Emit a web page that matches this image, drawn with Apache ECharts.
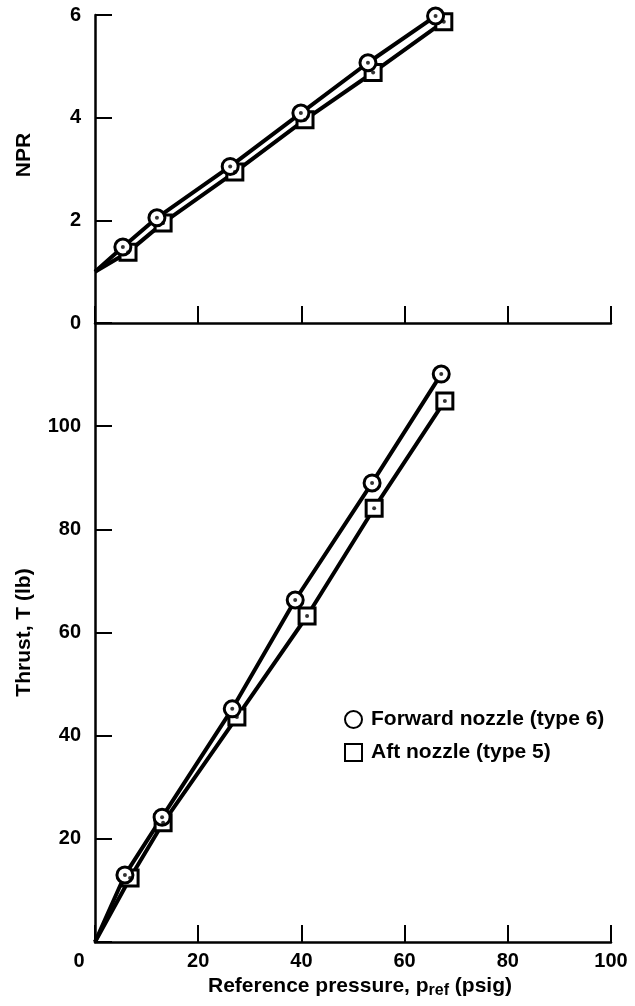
<!DOCTYPE html>
<html>
<head>
<meta charset="utf-8">
<script src="https://cdn.jsdelivr.net/npm/echarts@6/dist/echarts.min.js"></script>
<style>
  html, body { margin: 0; padding: 0; background: #fff; }
  #chart { width: 635px; height: 1006px; }
</style>
</head>
<body>
<div id="chart"></div>
<script>
// values
var fwdName = 'Forward nozzle (type 6)';
var aftName = 'Aft nozzle (type 5)';

// top panel: NPR vs reference pressure
var nprFwdP = [5.4, 12.0, 26.2, 39.9, 52.9, 66.0];
var nprFwd  = [1.48, 2.05, 3.05, 4.09, 5.07, 5.98];
var nprAftP = [6.4, 13.2, 27.1, 40.7, 53.9, 67.6];
var nprAft  = [1.38, 1.95, 2.94, 3.96, 4.88, 5.87];
var nprAtZero = 1.0;

// bottom panel: thrust vs reference pressure
var thrFwdP = [5.8, 13.0, 26.6, 38.8, 53.7, 67.1];
var thrFwd  = [13.0, 24.2, 45.2, 66.3, 89.0, 110.1];
var thrAftP = [6.8, 13.2, 27.5, 41.1, 54.1, 67.8];
var thrAft  = [12.4, 23.1, 43.6, 63.2, 84.1, 104.9];
var thrAtZero = 0;

var font = "'Liberation Sans', Arial, Helvetica, sans-serif";

function pairs(xs, ys) {
    var out = [];
    for (var i = 0; i < xs.length; i++) out.push([xs[i], ys[i]]);
    return out;
}

var chart = echarts.init(document.getElementById('chart'));

var axisLine = { show: true, onZero: false, lineStyle: { color: '#000', width: 2.5 } };
var axisTick = { show: true, inside: true, length: 17, lineStyle: { color: '#000', width: 2 } };
var labelStyle = { color: '#000', fontSize: 20, fontWeight: 'bold', fontFamily: font };
var bigStyle = { color: '#000', fontSize: 21, fontWeight: 'bold', fontFamily: font };

function lineSeries(x, y, xs, ys, start) {
    return {
        type: 'line', xAxisIndex: x, yAxisIndex: y, z: 2, silent: true,
        showSymbol: false, symbol: 'none',
        lineStyle: { color: '#000', width: 4 },
        data: [[0, start]].concat(pairs(xs, ys))
    };
}
function markSeries(name, sym, x, y, xs, ys, z) {
    return {
        name: name, type: 'scatter', xAxisIndex: x, yAxisIndex: y, z: z, silent: true,
        symbol: sym, symbolSize: 16,
        itemStyle: { color: '#fff', borderColor: '#000', borderWidth: 3, opacity: 1 },
        data: pairs(xs, ys)
    };
}
function dotSeries(x, y, xs, ys) {
    return {
        type: 'scatter', xAxisIndex: x, yAxisIndex: y, z: 6, silent: true,
        symbol: 'circle', symbolSize: 4,
        itemStyle: { color: '#000' },
        data: pairs(xs, ys)
    };
}

var option = {
    animation: false,
    backgroundColor: '#fff',
    grid: [
        { left: 95, right: 24, top: 15, height: 308 },
        { left: 95, right: 24, top: 323, height: 619 }
    ],
    xAxis: [
        {
            gridIndex: 0, type: 'value', min: 0, max: 100, interval: 20,
            axisLine: axisLine, axisTick: axisTick,
            axisLabel: { show: false }, splitLine: { show: false }
        },
        {
            gridIndex: 1, type: 'value', min: 0, max: 100, interval: 20,
            axisLine: axisLine, axisTick: axisTick, splitLine: { show: false },
            axisLabel: Object.assign({}, labelStyle, {
                margin: 9,
                formatter: function (v) { return v === 0 ? '{z|0}' : String(v); },
                rich: { z: Object.assign({}, labelStyle, { padding: [0, 32, 0, 0] }) }
            }),
            name: '{m|Reference pressure, p}{s|ref}{m| (psig)}',
            nameLocation: 'middle', nameGap: 26,
            nameTextStyle: {
                padding: [0, 0, 0, 14],
                rich: {
                    m: Object.assign({}, bigStyle, { lineHeight: 24 }),
                    s: Object.assign({}, bigStyle, { fontSize: 16, lineHeight: 14, verticalAlign: 'bottom' })
                }
            }
        }
    ],
    yAxis: [
        {
            gridIndex: 0, type: 'value', min: 0, max: 6, interval: 2,
            axisLine: axisLine, axisTick: axisTick, splitLine: { show: false },
            axisLabel: Object.assign({}, labelStyle, { margin: 14 }),
            name: 'NPR', nameLocation: 'middle', nameGap: 60, nameRotate: 90,
            nameTextStyle: Object.assign({}, bigStyle, { padding: [0, 0, 0, 28] })
        },
        {
            gridIndex: 1, type: 'value', min: 0, max: 120, interval: 20,
            axisLine: axisLine, axisTick: axisTick, splitLine: { show: false },
            axisLabel: Object.assign({}, labelStyle, {
                margin: 14,
                formatter: function (v) { return (v === 0 || v === 120) ? '' : String(v); }
            }),
            name: 'Thrust, T (lb)', nameLocation: 'middle', nameGap: 60, nameRotate: 90,
            nameTextStyle: bigStyle
        }
    ],
    legend: {
        left: 339, top: 704, orient: 'vertical', itemGap: 12,
        itemWidth: 17, itemHeight: 17, selectedMode: false,
        textStyle: Object.assign({}, bigStyle, { padding: [0, 0, 0, 4] }),
        data: [
            { name: fwdName, icon: 'circle' },
            { name: aftName, icon: 'rect' }
        ]
    },
    series: [
        lineSeries(0, 0, nprAftP, nprAft, nprAtZero),
        lineSeries(0, 0, nprFwdP, nprFwd, nprAtZero),
        markSeries(aftName, 'rect', 0, 0, nprAftP, nprAft, 3),
        markSeries(fwdName, 'circle', 0, 0, nprFwdP, nprFwd, 4),
        dotSeries(0, 0, nprAftP, nprAft),
        dotSeries(0, 0, nprFwdP, nprFwd),

        lineSeries(1, 1, thrAftP, thrAft, thrAtZero),
        lineSeries(1, 1, thrFwdP, thrFwd, thrAtZero),
        markSeries(aftName, 'rect', 1, 1, thrAftP, thrAft, 3),
        markSeries(fwdName, 'circle', 1, 1, thrFwdP, thrFwd, 4),
        dotSeries(1, 1, thrAftP, thrAft),
        dotSeries(1, 1, thrFwdP, thrFwd)
    ]
};

chart.setOption(option);
window.addEventListener('resize', function () {
    chart.resize();
});
</script>
</body>
</html>
